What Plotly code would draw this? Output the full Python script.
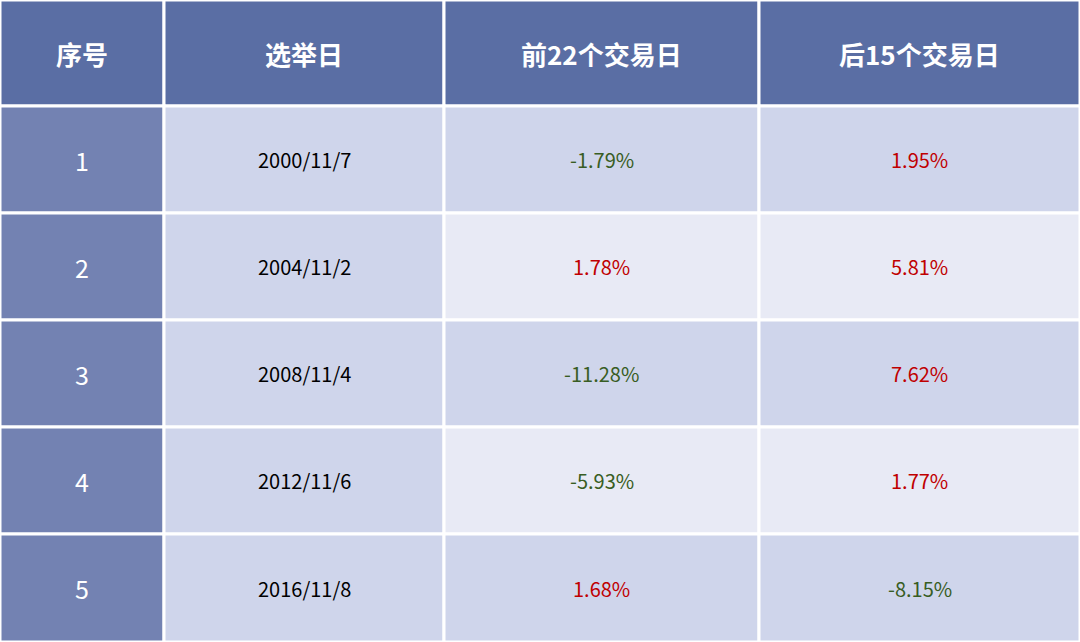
import plotly.graph_objects as go

headers = ["序号", "选举日", "前22个交易日", "后15个交易日"]
idx = ["1", "2", "3", "4", "5"]
dates = ["2000/11/7", "2004/11/2", "2008/11/4", "2012/11/6", "2016/11/8"]
pre22 = [-1.79, 1.78, -11.28, -5.93, 1.68]
post15 = [1.95, 5.81, 7.62, 1.77, -8.15]

def fmt(v): return f"{v:.2f}%"
def col(v): return "#385d23" if v < 0 else "#c00000"

xs = [0, 164, 444, 759, 1080]
ys = [0, 106, 213, 320, 427, 534, 642]
dark = "#7382b2"; a = "#cfd5eb"; b = "#e8eaf5"; hd = "#5a6ea4"
fig = go.Figure()
shapes = []; ann = []
font = "Noto Sans CJK SC"
for r in range(6):
    for c in range(4):
        if r == 0:
            fc = hd; txt = f"<b>{headers[c]}</b>"; tc = "white"; sz = 26
        else:
            i = r - 1
            if c == 0: fc, txt, tc, sz = dark, idx[i], "white", 25
            elif c == 1: fc, txt, tc, sz = a, dates[i], "black", 20
            elif c == 2: fc, txt, tc, sz = (a if i % 2 == 0 else b), fmt(pre22[i]), col(pre22[i]), 20
            else: fc, txt, tc, sz = (a if i % 2 == 0 else b), fmt(post15[i]), col(post15[i]), 20
        shapes.append(dict(type="rect", x0=xs[c], x1=xs[c+1], y0=ys[r], y1=ys[r+1],
                           fillcolor=fc, line=dict(color="white", width=3), layer="below"))
        ann.append(dict(x=(xs[c]+xs[c+1])/2, y=(ys[r]+ys[r+1])/2, text=txt, showarrow=False,
                        font=dict(color=tc, size=sz, family=font)))
fig.update_layout(shapes=shapes, annotations=ann, width=1080, height=642,
                  margin=dict(l=0, r=0, t=0, b=0), paper_bgcolor="white", plot_bgcolor="white",
                  xaxis=dict(range=[0, 1080], visible=False, fixedrange=True),
                  yaxis=dict(range=[642, 0], visible=False, fixedrange=True))
fig.write_html("out.html", config={"displayModeBar": False},
               post_script="document.body.style.margin='0';document.body.style.overflow='hidden';")
